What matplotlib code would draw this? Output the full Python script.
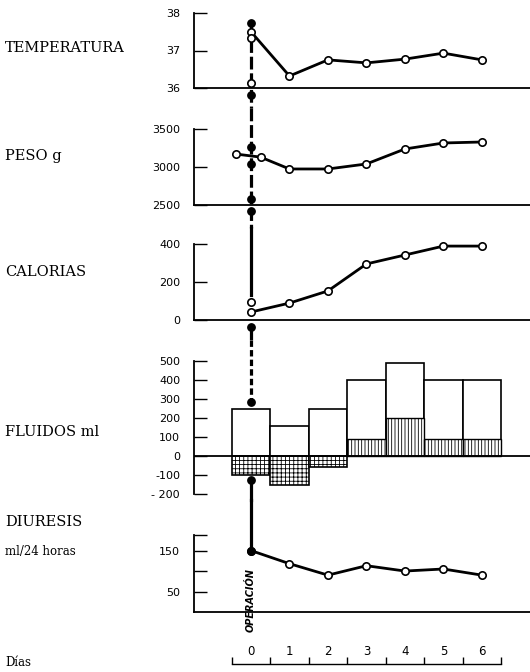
import matplotlib
matplotlib.use("Agg")
import matplotlib.pyplot as plt
from matplotlib.ticker import FixedLocator, FixedFormatter

plt.rcParams['hatch.linewidth'] = 0.6

# ---------------- data ----------------
days = [0, 1, 2, 3, 4, 5, 6]
day_labels = ['0', '1', '2', '3', '4', '5', '6']

temp_days = [0, 1, 2, 3, 4, 5, 6]
temp_vals = [37.5, 36.32, 36.75, 36.67, 36.77, 36.93, 36.75]

peso_days = [-0.4, 0.25, 1, 2, 3, 4, 5, 6]
peso_vals = [3171, 3130, 2974, 2974, 3040, 3237, 3316, 3329]

cal_days = [0, 1, 2, 3, 4, 5, 6]
cal_vals = [42, 89, 153, 295, 342, 389, 389]

fluid_total = [250, 160, 250, 400, 490, 400, 400]
fluid_hatched = [0, 0, 0, 90, 200, 90, 90]
fluid_negative = [-100, -155, -60, 0, 0, 0, 0]

diu_days = [0, 1, 2, 3, 4, 5, 6]
diu_vals = [150, 118, 90, 113, 100, 105, 90]

# operation line (day 0) per panel: extents, filled dots, open dots
op_temp_span = (37.73, 35.47)
op_temp_filled = [37.73, 35.81]
op_temp_open = [37.33, 36.13]
op_peso_span = (3776, 2197)
op_peso_filled = [3263, 3039, 2579, 2421]
op_cal_span = (484, 132)
op_cal_span2 = (-37, -105)
op_cal_filled = [-37]
op_cal_open = [95]
op_fl_span = (610, 284)
op_fl_span2 = (-126, -232)
op_fl_filled = [284, -126]
op_diu_span = (273, 150)

# ---------------- figure ----------------
W, H = 530, 672
fig = plt.figure(figsize=(W / 100, H / 100), dpi=100)

XL = (-1.48, 7.25)
LX = 194


def make_ax(ytop, ybot):
    ax = fig.add_axes([LX / W, 1 - ybot / H, (W - LX) / W, (ybot - ytop) / H])
    ax.set_xlim(*XL)
    ax.patch.set_alpha(0)
    for s in ['top', 'right']:
        ax.spines[s].set_visible(False)
    ax.spines['left'].set_linewidth(1.3)
    ax.spines['bottom'].set_linewidth(1.3)
    ax.set_xticks([])
    ax.tick_params(axis='y', direction='in', length=9, width=1.0, pad=10,
                   labelsize=8)
    return ax


LW = 2.0
MS = 5.3
OPLS = (0, (4, 1.2))


def series(ax, x, y, first_filled=False):
    ax.plot(x, y, color='black', lw=LW, zorder=3, clip_on=False)
    ax.plot(x, y, 'o', ms=MS, mfc='white', mec='black', mew=1.2, zorder=4,
            clip_on=False)
    if first_filled:
        ax.plot(x[0], y[0], 'o', ms=MS, mfc='black', mec='black', zorder=5,
                clip_on=False)


def opline(ax, span, ls=OPLS):
    ax.plot([0, 0], span, color='black', lw=LW + 0.3, ls=ls, zorder=2,
            clip_on=False)


def opdots(ax, filled=(), opened=()):
    if filled:
        ax.plot([0] * len(filled), filled, 'o', ms=MS, mfc='black', mec='black',
                zorder=5, clip_on=False)
    if opened:
        ax.plot([0] * len(opened), opened, 'o', ms=MS, mfc='white', mec='black',
                mew=1.2, zorder=5, clip_on=False)


# Temperature
ax1 = make_ax(13, 88)
ax1.set_ylim(36, 38)
ax1.set_yticks([36, 37, 38])
ax1.set_yticklabels(['36', '37', '38'])
opline(ax1, op_temp_span)
opdots(ax1, op_temp_filled, op_temp_open)
series(ax1, temp_days, temp_vals)

# Peso
ax2 = make_ax(129, 205)
ax2.set_ylim(2500, 3500)
ax2.set_yticks([2500, 3000, 3500])
ax2.set_yticklabels(['2500', '3000', '3500'])
opline(ax2, op_peso_span)
opdots(ax2, op_peso_filled)
series(ax2, peso_days, peso_vals)

# Calorias
ax3 = make_ax(244, 320)
ax3.set_ylim(0, 400)
ax3.set_yticks([0, 200, 400])
ax3.set_yticklabels(['0', '200', '400'])
opline(ax3, op_cal_span, ls='-')
opline(ax3, op_cal_span2)
opdots(ax3, op_cal_filled, op_cal_open)
series(ax3, cal_days, cal_vals)

# Fluidos
ax4 = make_ax(361, 494)
ax4.set_ylim(-200, 500)
ax4.spines['bottom'].set_visible(False)
fticks = [-200, -100, 0, 100, 200, 300, 400, 500]
ax4.set_yticks(fticks)
ax4.set_yticklabels(['- 200', '-100', '0', '100', '200', '300', '400', '500'])
ax4.axhline(0, color='black', lw=1.3, zorder=3)
ax4.bar(days, fluid_total, width=1.0, color='white', edgecolor='black',
        lw=1.2, zorder=2)
ax4.bar(days, fluid_hatched, width=1.0, color='white', edgecolor='black',
        lw=1.0, hatch='|||||', zorder=2.5)
ax4.bar(days, fluid_negative, width=1.0, color='white', edgecolor='black',
        lw=1.2, hatch='++++', zorder=2.5)
opline(ax4, op_fl_span, ls=(0, (2, 1)))
opline(ax4, op_fl_span2, ls='-')
opdots(ax4, op_fl_filled)

# Diuresis
ax5 = make_ax(535, 612)
ax5.set_ylim(0, 188)
ax5.set_yticks([50, 100, 150, 188])
ax5.set_yticklabels(['50', '', '150', ''])
opline(ax5, op_diu_span, ls='-')
series(ax5, diu_days, diu_vals, first_filled=True)
ax5.text(0, 29, 'OPERACIÓN', rotation=90, ha='center', va='center',
         fontsize=7, fontstyle='italic', fontweight='bold', family='DejaVu Sans',
         clip_on=False)

# Days axis
axd = fig.add_axes([LX / W, 1 - 664 / H, (W - LX) / W, 0.0005])
axd.set_xlim(*XL)
axd.patch.set_alpha(0)
for s in ['top', 'right', 'left']:
    axd.spines[s].set_visible(False)
axd.spines['bottom'].set_bounds(-0.5, 6.5)
axd.spines['bottom'].set_linewidth(1.0)
axd.set_yticks([])
bounds = [d - 0.5 for d in days] + [days[-1] + 0.5]
axd.xaxis.set_major_locator(FixedLocator(bounds))
axd.xaxis.set_major_formatter(FixedFormatter([''] * len(bounds)))
axd.xaxis.set_minor_locator(FixedLocator(days))
axd.xaxis.set_minor_formatter(FixedFormatter(day_labels))
axd.tick_params(axis='x', which='major', direction='in', length=5, width=1.0,
                bottom=True, top=False, labelbottom=False)
axd.tick_params(axis='x', which='minor', length=0, bottom=False, top=True,
                labeltop=True, labelbottom=False, pad=4, labelsize=8.5)

# Left labels
serif = 'DejaVu Serif'
lab = dict(family=serif, fontsize=10.5, ha='left', va='center')
fig.text(5 / W, 1 - 48 / H, 'TEMPERATURA', **lab)
fig.text(5 / W, 1 - 156 / H, 'PESO g', **lab)
fig.text(5 / W, 1 - 272 / H, 'CALORIAS', **lab)
fig.text(5 / W, 1 - 432 / H, 'FLUIDOS ml', **lab)
fig.text(5 / W, 1 - 522 / H, 'DIURESIS', **lab)
fig.text(5 / W, 1 - 551 / H, 'ml/24 horas', family=serif, fontsize=8.5,
         ha='left', va='center')
fig.text(5 / W, 1 - 663 / H, 'Días', family=serif, fontsize=8.5,
         ha='left', va='center')

fig.savefig('out.png', dpi=100)
